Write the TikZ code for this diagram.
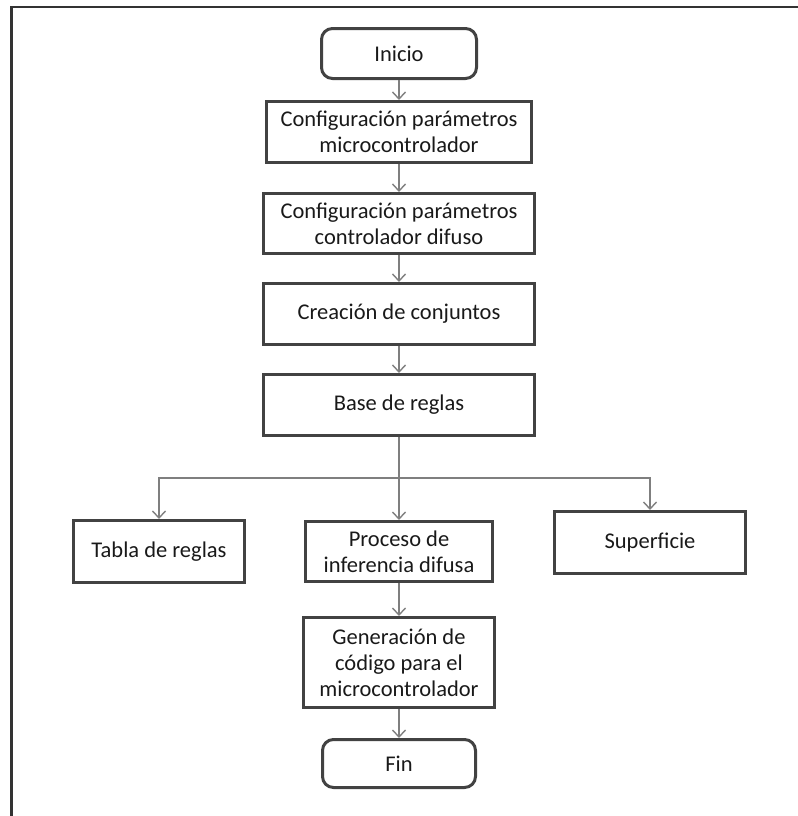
\documentclass[tikz,border=0pt]{standalone}
\usepackage{fontspec}
\setmainfont{Carlito}
\usepackage{tikz}
\usetikzlibrary{arrows.meta}

\definecolor{boxline}{HTML}{424242}
\definecolor{flowline}{HTML}{7F7F7F}

\begin{document}
\begin{tikzpicture}[>={Straight Barb[length=7bp,width=13bp]},
	every node/.style={font=\fontsize{22.5bp}{26bp}\selectfont, align=center, inner sep=0pt, text=black!90},
	block/.style={draw=boxline, line width=3bp, minimum height=61bp},
	terminal/.style={block, rounded corners=11bp, minimum height=50bp},
	flow/.style={draw=flowline, line width=1.4bp}]
	\useasboundingbox (0bp,0bp) rectangle (798bp,-816bp);
	\draw [black!80, line width=2.2bp] (11.5bp,-816bp) -- (11.5bp,-7bp) -- (798bp,-7bp);

	\node (inicio)  at (399bp,-53.5bp) [terminal, minimum width=155bp] {Inicio};
	\node (conf1)   at (399bp,-132bp)  [block, minimum width=265bp] {Configuración parámetros\\microcontrolador};
	\node (conf2)   at (399bp,-223.5bp) [block, minimum width=271bp, minimum height=60bp] {Configuración parámetros\\controlador difuso};
	\node (conj)    at (399bp,-314bp)  [block, minimum width=271bp] {Creación de conjuntos};
	\node (base)    at (399bp,-405bp)  [block, minimum width=271bp] {Base de reglas};
	\coordinate (split) at (399bp,-478bp);
	\node (tabla)   at (159bp,-551.5bp) [block, minimum width=171bp, minimum height=62bp] {Tabla de reglas};
	\node (proceso) at (399bp,-551.5bp) [block, minimum width=187bp, minimum height=60bp] {Proceso de\\inferencia difusa};
	\node (superf)  at (650bp,-542.5bp) [block, minimum width=191bp, minimum height=62bp] {Superficie};
	\node (gen)     at (399bp,-662.5bp) [block, minimum width=191bp, minimum height=90bp] {Generación de\\código para el\\microcontrolador};
	\node (fin)     at (399bp,-763.5bp) [terminal, minimum width=153bp, minimum height=48bp] {Fin};

	\draw [flow,->] (inicio) to (conf1);
	\draw [flow,->] (conf1) to (conf2);
	\draw [flow,->] (conf2) to (conj);
	\draw [flow,->] (conj) to (base);
	\draw [flow]    (base) to (split);
	\draw [flow,->] (split) -| (tabla);
	\draw [flow,->] (split) to (proceso);
	\draw [flow,->] (split) -| (superf);
	\draw [flow,->] (proceso) to (gen);
	\draw [flow,->] (gen) to (fin);
\end{tikzpicture}
\end{document}
